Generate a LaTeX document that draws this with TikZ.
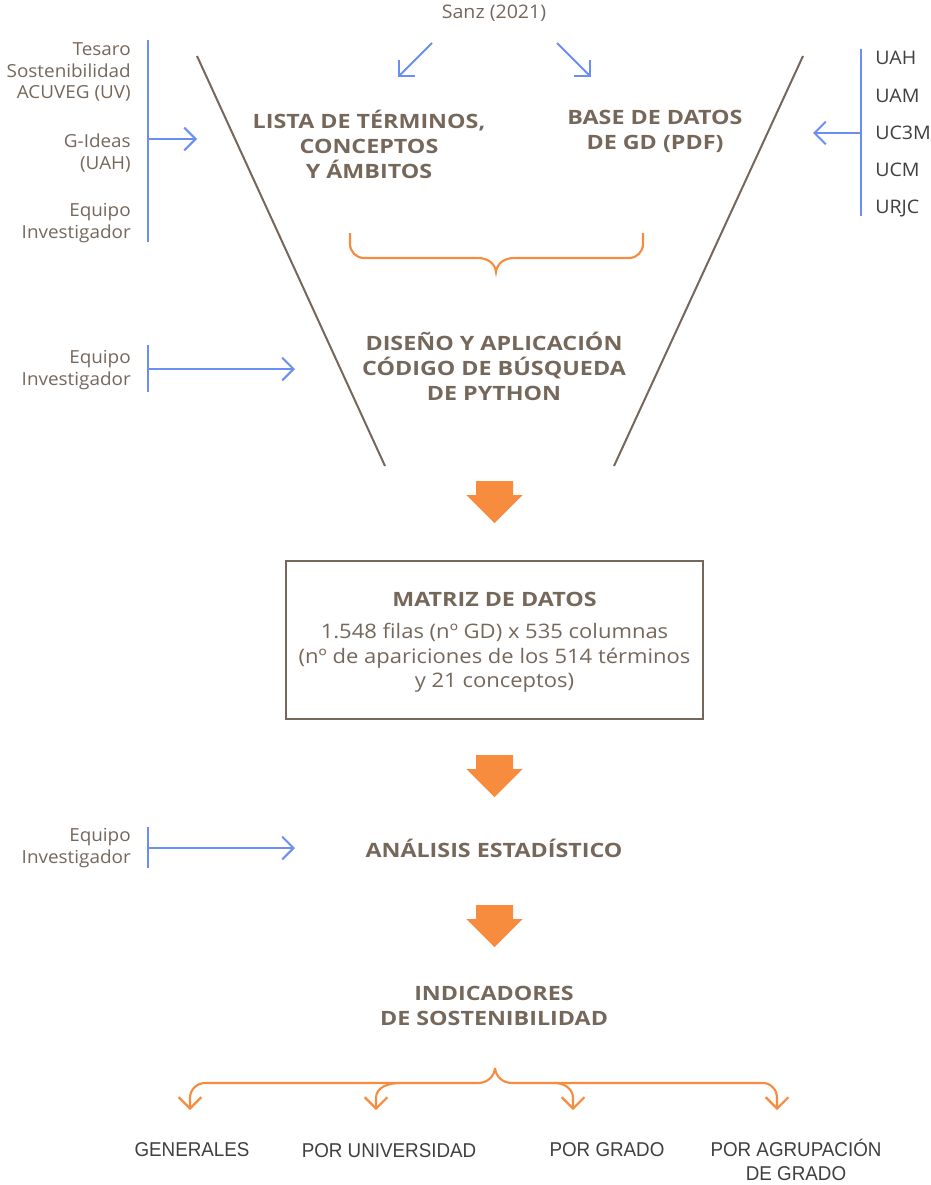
\documentclass[tikz,border=0pt]{standalone}
\usepackage{fontspec}
\setmainfont{Open Sans}
\newfontfamily\titlefont{Open Sans}[FakeStretch=1.18]
\newfontfamily\regwide{Open Sans}[FakeStretch=1.05]
\newfontfamily\bodywide{Open Sans}[FakeStretch=1.1]
\newfontfamily\condfont{Liberation Sans}[FakeStretch=0.94]
\usetikzlibrary{arrows.meta}
\definecolor{brn}{HTML}{76675B}
\definecolor{blu}{HTML}{6B8EF5}
\definecolor{org}{HTML}{F78B3E}
\definecolor{dgray}{HTML}{3F3F3F}
\tikzset{
  lab/.style={text=brn, font=\regwide\fontsize{13.5}{16.1}\selectfont, align=right, anchor=east, inner sep=0pt},
  unilab/.style={text=dgray, font=\regwide\fontsize{14}{16}\selectfont, anchor=west, inner sep=0pt},
  ttl/.style={text=brn, font=\titlefont\bfseries\fontsize{14.8}{18.8}\selectfont, align=center, inner sep=0pt},
  body/.style={text=brn, font=\bodywide\fontsize{15}{18.4}\selectfont, align=center, inner sep=0pt},
  outlab/.style={text=dgray, font=\condfont\fontsize{15}{18.6}\selectfont, align=center, inner sep=0pt},
  barb/.style={-{Straight Barb[length=8.5pt,width=17pt]}},
  bl/.style={draw=blu, line width=1.5pt},
  og/.style={draw=org, line width=1.6pt},
  funnel/.style={draw=brn, line width=1.5pt},
  blockarr/.pic={\fill[org] (-18.5,0) -- (18.5,0) -- (18.5,14) -- (28,14) -- (0,42) -- (-28,14) -- (-18.5,14) -- cycle;}
}
\begin{document}
\begin{tikzpicture}[x=0.75pt,y=-0.75pt]
\useasboundingbox (0,0) rectangle (931,1185);
% top source
\node[text=brn, font=\regwide\fontsize{14}{16}\selectfont, inner sep=0pt] (sanz) at (494,13) {Sanz (2021)};
\coordinate (sl1) at (432,43); \coordinate (sl2) at (398,77);
\coordinate (sr1) at (557,43); \coordinate (sr2) at (591,77);
\draw[bl,barb] (sl1) -- (sl2);
\draw[bl,barb] (sr1) -- (sr2);
% funnel
\coordinate (fl1) at (197,56); \coordinate (fl2) at (385,466);
\coordinate (fr1) at (803,56); \coordinate (fr2) at (614,466);
\draw[funnel] (fl1) -- (fl2);
\draw[funnel] (fr1) -- (fr2);
% left sources
\node[lab] (tesaro) at (131,72) {Tesaro\\Sostenibilidad\\ACUVEG (UV)};
\node[lab] (gideas) at (131,153) {G-Ideas\\(UAH)};
\node[lab] (equipo1) at (131,223) {Equipo\\Investigador};
\coordinate (lb1) at (148,40); \coordinate (lb2) at (148,242);
\coordinate (la1) at (148,139); \coordinate (la2) at (197,139);
\draw[bl] (lb1) -- (lb2);
\draw[bl,barb] (la1) -- (la2);
% right sources
\node[unilab] (uah) at (875,58) {UAH};
\node[unilab] (uam) at (875,96) {UAM};
\node[unilab] (uc3m) at (875,133) {UC3M};
\node[unilab] (ucm) at (875,170) {UCM};
\node[unilab] (urjc) at (875,208) {URJC};
\coordinate (rb1) at (861,49); \coordinate (rb2) at (861,216);
\coordinate (ra1) at (861,133); \coordinate (ra2) at (813,133);
\draw[bl] (rb1) -- (rb2);
\draw[bl,barb] (ra1) -- (ra2);
% titles
\node[ttl] (lista) at (369,144) {LISTA DE TÉRMINOS,\\CONCEPTOS\\Y ÁMBITOS};
\node[ttl] (base) at (655,131) {BASE DE DATOS\\DE GD (PDF)};
% brace
\draw[og] (350,233) -- (350,244) to[out=-90,in=180] (364,258) -- (478,258) to[out=0,in=95] (496,272) to[out=85,in=180] (514,258) -- (629,258) to[out=0,in=-90] (643,244) -- (643,233);
% diseño
\node[ttl] (diseno) at (494,366) {DISEÑO Y APLICACIÓN\\CÓDIGO DE BÚSQUEDA\\DE PYTHON};
\node[lab] (equipo2) at (131,370) {Equipo\\Investigador};
\coordinate (mb1) at (148,345); \coordinate (mb2) at (148,392);
\coordinate (ma1) at (148,369); \coordinate (ma2) at (295,369);
\draw[bl] (mb1) -- (mb2);
\draw[bl,barb] (ma1) -- (ma2);
% block arrows
\pic at (494.5,481) {blockarr};
\pic at (494.5,755) {blockarr};
\pic at (494.5,905) {blockarr};
% matrix box
\node[draw=brn, line width=1.9pt, minimum width=417*0.75pt, minimum height=158*0.75pt, inner sep=0pt] (box) at (494.5,640) {};
\node[ttl] (matriz) at (494.5,599) {MATRIZ DE DATOS};
\node[body] (matbody) at (494.5,658) {1.548 filas (nº GD) x 535 columnas\\(nº de apariciones de los 514 términos\\y 21 conceptos)};
% analisis
\node[ttl] (analisis) at (494,848) {ANÁLISIS ESTADÍSTICO};
\node[lab] (equipo3) at (131,848) {Equipo\\Investigador};
\coordinate (bb1) at (148,827); \coordinate (bb2) at (148,868);
\coordinate (ba1) at (148,848); \coordinate (ba2) at (295,848);
\draw[bl] (bb1) -- (bb2);
\draw[bl,barb] (ba1) -- (ba2);
% indicadores
\node[ttl] (indic) at (494,1006) {INDICADORES\\DE SOSTENIBILIDAD};
% bottom brace
\coordinate (tip) at (495,1068);
\draw[og] (tip) to[out=-95,in=0] (478,1083) -- (205,1083);
\draw[og] (tip) to[out=-85,in=180] (512,1083) -- (763,1083);
\draw[og,barb] (205,1083) to[out=180,in=90] (190,1098) -- (190,1110);
\draw[og,barb] (400,1083) to[out=180,in=90] (376,1098) -- (376,1110);
\draw[og,barb] (555,1083) to[out=0,in=90] (573,1098) -- (573,1110);
\draw[og,barb] (763,1083) to[out=0,in=90] (777,1098) -- (777,1110);
\node[outlab] (gen) at (192,1150) {GENERALES};
\node[outlab] (puni) at (389,1151) {POR UNIVERSIDAD};
\node[outlab] (pgrado) at (607,1150) {POR GRADO};
\node[outlab] (pagr) at (796,1160) {POR AGRUPACIÓN\\DE GRADO};
\end{tikzpicture}
\end{document}
